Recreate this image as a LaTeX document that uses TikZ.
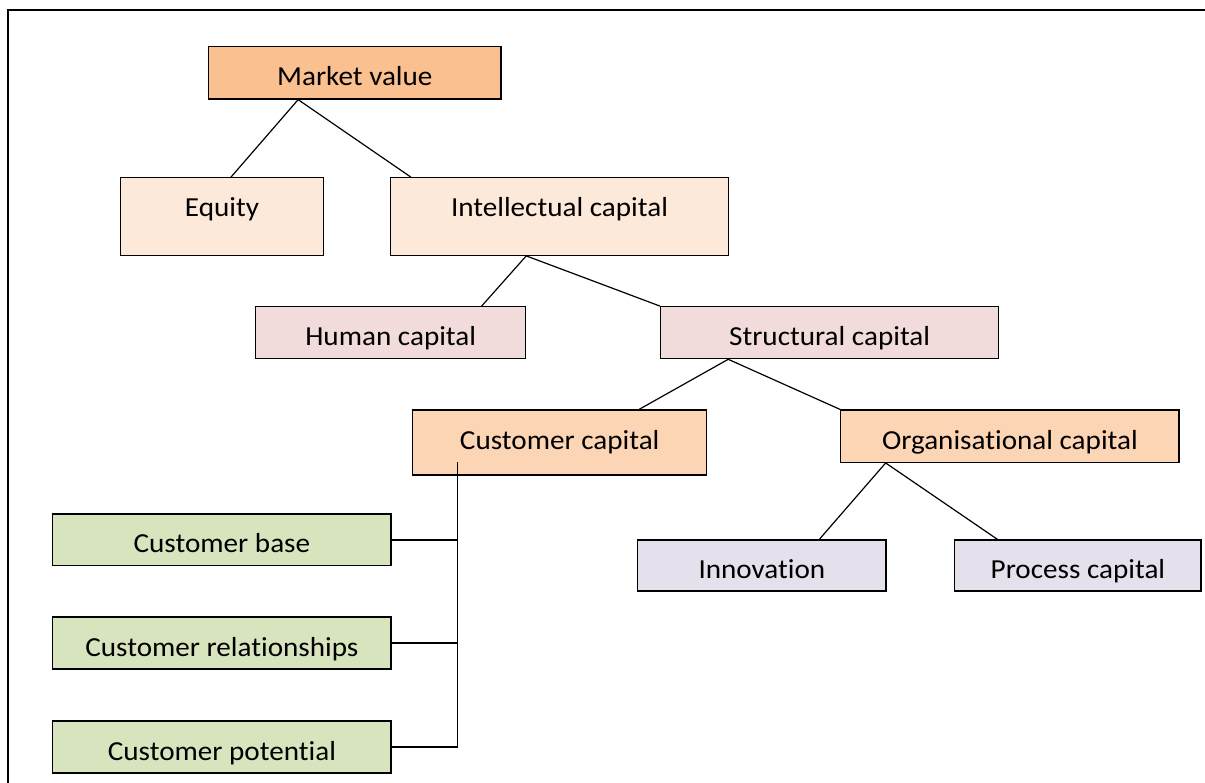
\documentclass[tikz,border=0pt]{standalone}
\usepackage{fontspec}
\setmainfont{Carlito}[FakeStretch=1.06,Ligatures=NoCommon]
\usetikzlibrary{calc}
\definecolor{mvfill}{HTML}{FAC08F}
\definecolor{peach}{HTML}{FDE9D9}
\definecolor{rose}{HTML}{F2DCDB}
\definecolor{tan}{HTML}{FCD5B5}
\definecolor{sage}{HTML}{D7E4BD}
\definecolor{lilac}{HTML}{E5E0EC}
\tikzset{
  box/.style={draw, line width=1.2pt, inner sep=0pt, text height=26pt, text depth=0pt},
  tallbox/.style={box, text height=14pt, text depth=14pt},
  link/.style={line width=1.2pt}
}

\begin{document}
\begin{tikzpicture}[x=1pt,y=-1pt,font=\fontsize{27.5pt}{33pt}\selectfont]
\useasboundingbox (0,0) rectangle (1205,782);
\draw[line width=1.5pt] (1220,10) -- (8,10) -- (8,800);
\node[box,fill=mvfill,minimum width=292.4pt,minimum height=52.3pt] (mv) at (354.8,72.9) {Market value};
\node[tallbox,fill=peach,minimum width=202.9pt,minimum height=77.6pt] (eq) at (222,216.5) {Equity};
\node[tallbox,fill=peach,minimum width=338.1pt,minimum height=77.6pt] (ic) at (559.5,216.5) {Intellectual capital};
\node[box,fill=rose,minimum width=270.2pt,minimum height=52pt] (hc) at (390.7,332.7) {Human capital};
\node[box,fill=rose,minimum width=337.9pt,minimum height=52pt] (sc) at (829.6,332.7) {Structural capital};
\node[box,fill=tan,minimum width=293.9pt,minimum height=65pt,text height=20pt,text depth=6.4pt] (cc) at (559.7,442.5) {Customer capital};
\node[box,fill=tan,minimum width=338.3pt,minimum height=52.3pt] (oc) at (1009.9,436.2) {Organisational capital};
\node[box,fill=lilac,minimum width=248.3pt,minimum height=51pt] (inn) at (761.9,565.5) {Innovation};
\node[box,fill=lilac,minimum width=246.2pt,minimum height=51pt] (pc) at (1077.9,565.5) {Process capital};
\node[box,fill=sage,minimum width=338.3pt,minimum height=51.7pt] (cb) at (221.9,539.9) {Customer base};
\node[box,fill=sage,minimum width=338.3pt,minimum height=52pt] (cr) at (221.9,643) {Customer relationships};
\node[box,fill=sage,minimum width=338.3pt,minimum height=52pt] (cp) at (221.9,747) {Customer potential};
\draw[link] ($(mv.south west)!0.307!(mv.south east)$) -- ($(eq.north west)!0.544!(eq.north east)$);
\draw[link] ($(mv.south west)!0.307!(mv.south east)$) -- ($(ic.north west)!0.062!(ic.north east)$);
\draw[link] ($(ic.south west)!0.402!(ic.south east)$) -- ($(hc.north west)!0.835!(hc.north east)$);
\draw[link] ($(ic.south west)!0.402!(ic.south east)$) -- (sc.north west);
\draw[link] ($(sc.south west)!0.201!(sc.south east)$) -- ($(cc.north west)!0.769!(cc.north east)$);
\draw[link] ($(sc.south west)!0.201!(sc.south east)$) -- (oc.north west);
\draw[link] ($(oc.south west)!0.134!(oc.south east)$) -- ($(inn.north west)!0.73!(inn.north east)$);
\draw[link] ($(oc.south west)!0.134!(oc.south east)$) -- ($(pc.north west)!0.175!(pc.north east)$);
\coordinate (cctop) at ($(cc.south west)!0.155!(cc.south east)+(0,-13.3)$);
\draw[link] (cctop) |- (cp.east);
\draw[link] (cb.east) -- (cb.east -| cctop);
\draw[link] (cr.east) -- (cr.east -| cctop);
\end{tikzpicture}
\end{document}
